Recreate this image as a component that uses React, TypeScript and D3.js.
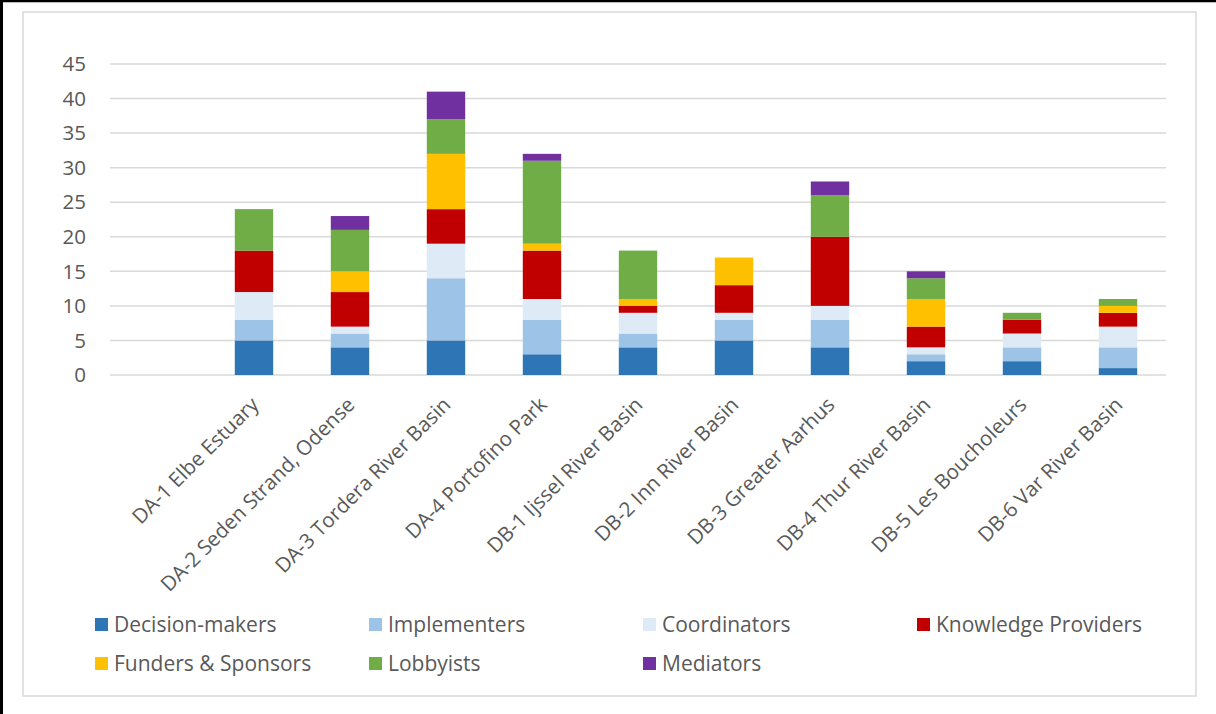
import React from 'react';
import * as d3 from 'd3';

// Demonstration sites (the band scale keeps an empty slot in front of them)
const sites = [
  'DA-1 Elbe Estuary',
  'DA-2 Seden Strand, Odense',
  'DA-3 Tordera River Basin',
  'DA-4 Portofino Park',
  'DB-1 Ijssel River Basin',
  'DB-2 Inn River Basin',
  'DB-3 Greater Aarhus',
  'DB-4 Thur River Basin',
  'DB-5 Les Boucholeurs',
  'DB-6 Var River Basin',
];

// Stakeholder counts per site, one array per role
const decisionMakers = [5, 4, 5, 3, 4, 5, 4, 2, 2, 1];
const implementers = [3, 2, 9, 5, 2, 3, 4, 1, 2, 3];
const coordinators = [4, 1, 5, 3, 3, 1, 2, 1, 2, 3];
const knowledgeProviders = [6, 5, 5, 7, 1, 4, 10, 3, 2, 2];
const fundersSponsors = [0, 3, 8, 1, 1, 4, 0, 4, 0, 1];
const lobbyists = [6, 6, 5, 12, 7, 0, 6, 3, 1, 1];
const mediators = [0, 2, 4, 1, 0, 0, 2, 1, 0, 0];

const roleNames = [
  'Decision-makers',
  'Implementers',
  'Coordinators',
  'Knowledge Providers',
  'Funders & Sponsors',
  'Lobbyists',
  'Mediators',
];
const roleValues = [
  decisionMakers,
  implementers,
  coordinators,
  knowledgeProviders,
  fundersSponsors,
  lobbyists,
  mediators,
];
const roleColors = ['#2E75B6', '#9DC3E6', '#DEEBF7', '#C00000', '#FFC000', '#70AD47', '#7030A0'];

const yTicks = [0, 5, 10, 15, 20, 25, 30, 35, 40, 45];

const W = 1216;
const H = 714;
const FONT = '"Open Sans", "Noto Sans", sans-serif';
const TEXT = '#595959';

export default function App() {
  const plotLeft = 110;
  const plotRight = 1166;
  const x = d3
    .scaleBand<string>()
    .domain(['', ...sites])
    .range([plotLeft, plotRight])
    .paddingInner(0.6)
    .paddingOuter(0.3);
  const y = d3.scaleLinear().domain([0, 45]).range([375, 64]);

  const table = sites.map((site, i) => {
    const row: Record<string, any> = { site };
    roleNames.forEach((r, k) => (row[r] = roleValues[k][i]));
    return row;
  });
  const stacked = d3.stack<Record<string, any>>().keys(roleNames)(table);

  const legendCols = [95, 369, 643, 917];
  const legendRows = [625, 664];

  return (
    <svg
      width={W}
      height={H}
      viewBox={`0 0 ${W} ${H}`}
      style={{ position: 'fixed', left: 0, top: 0, background: '#fff' }}
      fontFamily={FONT}
    >
      <rect x={0} y={0} width={W} height={H} fill="#fff" />
      {/* chart area frame */}
      <rect x={23} y={12} width={1173} height={684} fill="none" stroke="#D9D9D9" strokeWidth={1.5} />
      {/* outer page rule on the top and left */}
      <line x1={0} y1={1} x2={W} y2={1} stroke="#000" strokeWidth={2.5} />
      <line x1={1.5} y1={0} x2={1.5} y2={H} stroke="#000" strokeWidth={3} />

      {/* gridlines and y tick labels */}
      {yTicks.map((t) => (
        <g key={t}>
          <line x1={plotLeft} x2={plotRight} y1={y(t)} y2={y(t)} stroke="#D9D9D9" strokeWidth={1.5} />
          <text x={86} y={y(t)} dy="0.35em" textAnchor="end" fontSize={20.5} fill={TEXT}>
            {t}
          </text>
        </g>
      ))}

      {/* stacked bars */}
      {stacked.map((layer, k) => (
        <g key={layer.key} fill={roleColors[k]}>
          {layer.map((d, i) =>
            d[1] - d[0] > 0 ? (
              <rect
                key={i}
                x={x(sites[i])!}
                width={x.bandwidth()}
                y={y(d[1])}
                height={y(d[0]) - y(d[1])}
              />
            ) : null
          )}
        </g>
      ))}

      {/* rotated category labels */}
      {sites.map((s) => {
        const cx = x(s)! + x.bandwidth() / 2 + 6;
        const cy = 406;
        return (
          <text
            key={s}
            transform={`translate(${cx},${cy}) rotate(-45)`}
            textAnchor="end"
            fontSize={20.5}
            fill={TEXT}
          >
            {s}
          </text>
        );
      })}

      {/* legend */}
      {roleNames.map((r, k) => {
        const lx = legendCols[k % 4];
        const ly = legendRows[Math.floor(k / 4)];
        return (
          <g key={r}>
            <rect x={lx} y={ly - 7} width={13} height={13} fill={roleColors[k]} />
            <text x={lx + 19} y={ly} dy="0.35em" fontSize={21} fill={TEXT}>
              {r}
            </text>
          </g>
        );
      })}
    </svg>
  );
}
